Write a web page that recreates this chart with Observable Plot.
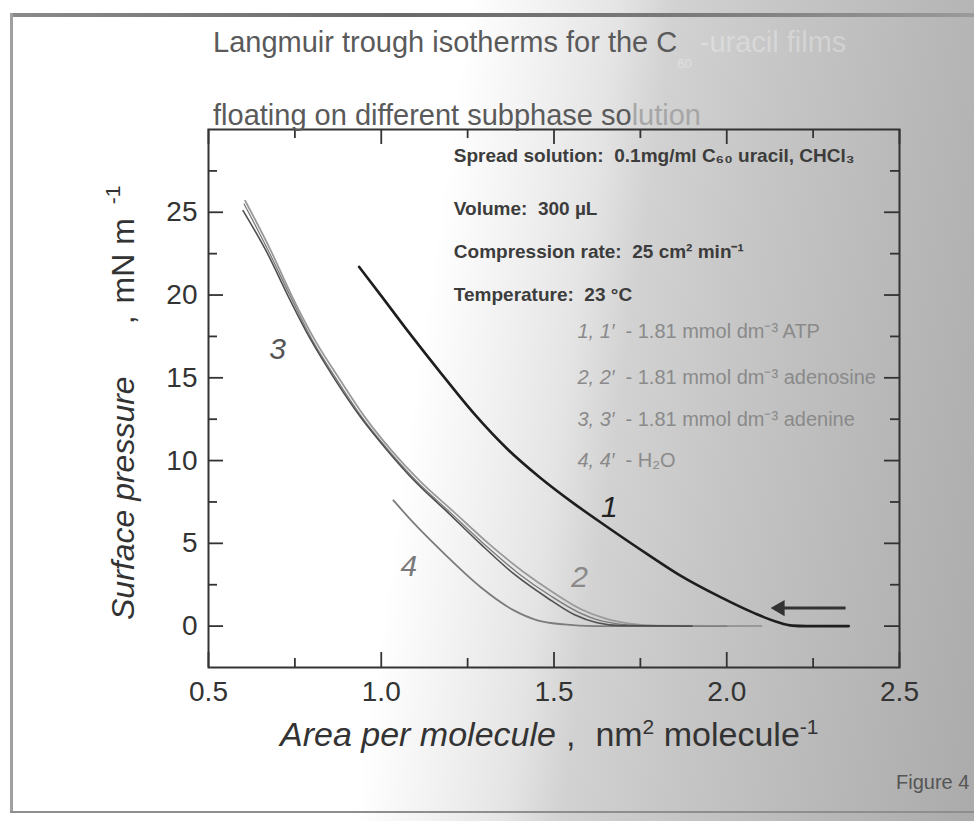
<!DOCTYPE html>
<html>
<head>
<meta charset="utf-8">
<script src="https://cdn.jsdelivr.net/npm/d3@7"></script>
<script src="https://cdn.jsdelivr.net/npm/@observablehq/plot@0.6"></script>
<style>
  html, body { margin: 0; padding: 0; }
  body {
    width: 974px; height: 821px; overflow: hidden; position: relative;
    background: linear-gradient(98deg, #ffffff 0%, #ffffff 43%, #f0f0f0 51%, #e4e4e4 57%, #d2d2d2 62%, #c6c6c6 72%, #b9b9b9 85%, #ababab 100%);
    font-family: "Liberation Sans", Arial, sans-serif;
  }
  #chart { position: absolute; left: 0; top: 0; }
  .bt { position: absolute; left: 10px; right: 0; top: 13px; height: 4px; background: linear-gradient(90deg, #8a8a8a, #6a6a6a 40%, #7a7a7a 70%, #9a9a9a); }
  .bl { position: absolute; left: 10px; top: 13px; width: 3px; height: 800px; background: #a0a0a0; }
  .bb { position: absolute; left: 10px; right: 0; top: 811px; height: 2px; background: #8e8e8e; }
</style>
</head>
<body>
<div class="bt"></div><div class="bl"></div><div class="bb"></div>
<div id="chart"></div>
<script>
// ---- data ----
const xMajor = [0.5, 1.0, 1.5, 2.0, 2.5];
const xMinor = [0.75, 1.25, 1.75, 2.25];
const yMajor = [0, 5, 10, 15, 20, 25];
const yMinor = [2.5, 7.5, 12.5, 17.5, 22.5, 27.5];

// curve 1 (ATP) [area, pressure]
const curve1 = [[0.936,21.7],[1.0,19.95],[1.076,17.85],[1.172,15.3],[1.268,12.85],[1.365,10.7],[1.461,8.95],[1.558,7.4],[1.65,6.05],[1.77,4.35],[1.866,3.05],[1.982,1.75],[2.078,0.8],[2.146,0.25],[2.19,0.03],[2.23,0.0],[2.353,0.0]];
// curve 2 (adenosine)
const curve2 = [[0.606,25.7],[0.68,22.7],[0.74,20.0],[0.81,17.2],[0.88,14.9],[0.95,12.7],[1.03,10.6],[1.11,8.8],[1.21,6.9],[1.31,5.0],[1.41,3.3],[1.50,2.0],[1.58,1.0],[1.65,0.45],[1.72,0.15],[1.80,0.03],[2.1,0.0]];
// curve 3 (adenine) and its repeat
const curve3 = [[0.600,25.1],[0.671,22.5],[0.729,20.0],[0.796,17.3],[0.863,15.0],[0.941,12.6],[1.018,10.6],[1.095,8.8],[1.191,6.9],[1.288,4.95],[1.384,3.15],[1.481,1.7],[1.558,0.7],[1.625,0.2],[1.693,0.03],[1.9,0.0]];
const curve3b = [[0.603,25.5],[0.675,22.6],[0.735,20.0],[0.80,17.3],[0.868,15.0],[0.945,12.6],[1.022,10.6],[1.10,8.8],[1.198,6.9],[1.298,4.95],[1.396,3.2],[1.492,1.8],[1.57,0.85],[1.64,0.3],[1.71,0.08],[1.8,0.0],[2.0,0.0]];
// curve 4 (H2O)
const curve4 = [[1.035,7.6],[1.095,6.2],[1.191,4.2],[1.288,2.35],[1.384,0.95],[1.452,0.35],[1.529,0.1],[1.616,0.0],[2.1,0.0]];

// curve number labels
const labelText = ["1", "2", "3", "4"];
const labelX = [1.66, 1.574, 0.70, 1.08];
const labelY = [7.2, 2.97, 16.7, 3.58];
const labelColor = ["#222222", "#8a8a8a", "#555555", "#7a7a7a"];

// info block
const infoText = ["Spread solution:  0.1mg/ml C\u2086\u2080 uracil, CHCl\u2083", "Volume:  300 \u00b5L", "Compression rate:  25 cm\u00b2 min\u207b\u00b9", "Temperature:  23 \u00b0C"];
const infoY = [28.4, 25.2, 22.6, 20.0];
const legendPrefix = ["1, 1\u2032", "2, 2\u2032", "3, 3\u2032", "4, 4\u2032"];
const legendRest = ["- 1.81 mmol dm\u207b\u00b3 ATP", "- 1.81 mmol dm\u207b\u00b3 adenosine", "- 1.81 mmol dm\u207b\u00b3 adenine", "- H\u2082O"];
const legendY = [17.8, 15.0, 12.5, 10.0];

// compression arrow
const arrowData = [{x1: 2.344, x2: 2.154, y: 1.09}];

// ---- layout ----
const W = 974, H = 821;
const mL = 208, mR = 75, mT = 129, mB = 154;
const fw = W - mL - mR, fh = H - mT - mB;
const major = 15, minor = 9;
const ink = "#333333";

const infoData = infoText.map((t, i) => ({t, x: 1.21, y: infoY[i]}));
const legendData = legendPrefix.map((p, i) => ({p, r: legendRest[i], x: 1.568, y: legendY[i]}));
const labelData = labelText.map((t, i) => ({t, x: labelX[i], y: labelY[i], c: labelColor[i]}));

const line = (data, stroke, strokeWidth) => Plot.line(data, {x: d => d[0], y: d => d[1], stroke, strokeWidth, curve: "monotone-x", strokeLinejoin: "round", strokeLinecap: "round"});

const chart = Plot.plot({
  width: W, height: H,
  marginLeft: mL, marginRight: mR, marginTop: mT, marginBottom: mB,
  x: {domain: [0.5, 2.5]},
  y: {domain: [-2.5, 30]},
  style: {background: "transparent", overflow: "visible", fontFamily: "'Liberation Sans', Arial, sans-serif"},
  marks: [
    // inward ticks on four sides
    Plot.ruleX(xMajor, {insetTop: fh - major, stroke: ink, strokeWidth: 1.8}),
    Plot.ruleX(xMinor, {insetTop: fh - minor, stroke: ink, strokeWidth: 1.8}),
    Plot.ruleX(xMajor, {insetBottom: fh - major, stroke: ink, strokeWidth: 1.8}),
    Plot.ruleX(xMinor, {insetBottom: fh - minor, stroke: ink, strokeWidth: 1.8}),
    Plot.ruleY(yMajor, {insetRight: fw - major, stroke: ink, strokeWidth: 1.8}),
    Plot.ruleY(yMinor, {insetRight: fw - minor, stroke: ink, strokeWidth: 1.8}),
    Plot.ruleY(yMajor, {insetLeft: fw - major, stroke: ink, strokeWidth: 1.8}),
    Plot.ruleY(yMinor, {insetLeft: fw - minor, stroke: ink, strokeWidth: 1.8}),
    Plot.frame({stroke: ink, strokeWidth: 2}),
    Plot.axisX(xMajor, {tickSize: 0, tickPadding: 14, fontSize: 28, fill: "#333", tickFormat: d => d.toFixed(1), label: null}),
    Plot.axisY(yMajor, {tickSize: 0, tickPadding: 11, fontSize: 28, fill: "#333", label: null}),
    // isotherms
    line(curve4, "#7c7c7c", 1.8),
    line(curve2, "#9a9a9a", 1.8),
    line(curve3b, "#7a7a7a", 1.3),
    line(curve3, "#505050", 1.6),
    line(curve1, "#1e1e1e", 2.6),
    // arrow
    Plot.link(arrowData, {x1: "x1", x2: "x2", y1: "y", y2: "y", stroke: "#333", strokeWidth: 3}),
    Plot.dot(arrowData, {x: "x2", y: "y", symbol: "triangle", r: 6, rotate: -90, fill: "#333", stroke: "none"}),
    // curve labels
    Plot.text(labelData, {x: "x", y: "y", text: "t", fill: "c", fontSize: 30, fontStyle: "italic"}),
    // info block
    Plot.text(infoData, {x: "x", y: "y", text: "t", textAnchor: "start", fontSize: 19, fontWeight: "bold", fill: "#3c3c3c"}),
    Plot.text(legendData, {x: "x", y: "y", text: "p", textAnchor: "start", fontSize: 20, fontStyle: "italic", fill: "#8a8a8a"}),
    Plot.text(legendData, {x: "x", y: "y", text: "r", textAnchor: "start", dx: 48, fontSize: 20, fill: "#8a8a8a"})
  ]
});
document.getElementById("chart").append(chart);

// ---- titles and axis labels (rich text) ----
const svg = d3.select(chart);
const ff = "'Liberation Sans', Arial, sans-serif";
const t1 = svg.append("text").attr("x", 213).attr("y", 52).attr("text-anchor", "start").attr("font-family", ff).attr("font-size", 29).attr("fill", "#5a5a5a");
t1.append("tspan").text("Langmuir trough isotherms for the C");
t1.append("tspan").attr("dy", 16).attr("font-size", 13).attr("fill", "#ffffff").attr("fill-opacity", 0.35).text("60");
t1.append("tspan").attr("dy", -16).attr("fill", "#ffffff").attr("fill-opacity", 0.3).text(" -uracil films");
const t2 = svg.append("text").attr("x", 213).attr("y", 125).attr("text-anchor", "start").attr("font-family", ff).attr("font-size", 29).attr("fill", "#5a5a5a");
t2.append("tspan").text("floating on different subphase so");
t2.append("tspan").attr("fill", "#a6a6a6").text("lution");

const yl = svg.append("text").attr("transform", "translate(134,620) rotate(-90)").attr("text-anchor", "start").attr("font-family", ff).attr("font-size", 32).attr("fill", "#333");
yl.append("tspan").attr("font-style", "italic").text("Surface pressure");
yl.append("tspan").attr("dx", 52).text(",");
yl.append("tspan").attr("dx", 12).text("mN m");
yl.append("tspan").attr("dx", 14).attr("dy", -14).attr("font-size", 21).text("-1");

const xl = svg.append("text").attr("x", 280).attr("y", 746).attr("text-anchor", "start").attr("font-family", ff).attr("font-size", 34).attr("fill", "#333");
xl.append("tspan").attr("font-style", "italic").text("Area per molecule");
xl.append("tspan").attr("dx", 10).text(",");
xl.append("tspan").attr("dx", 20).text("nm");
xl.append("tspan").attr("dy", -12).attr("font-size", 21).text("2");
xl.append("tspan").attr("dy", 12).text(" molecule");
xl.append("tspan").attr("dy", -12).attr("font-size", 21).text("-1");

svg.append("text").attr("x", 896).attr("y", 789).attr("text-anchor", "start").attr("font-family", ff).attr("font-size", 20).attr("fill", "#555").text("Figure 4");
</script>
</body>
</html>
